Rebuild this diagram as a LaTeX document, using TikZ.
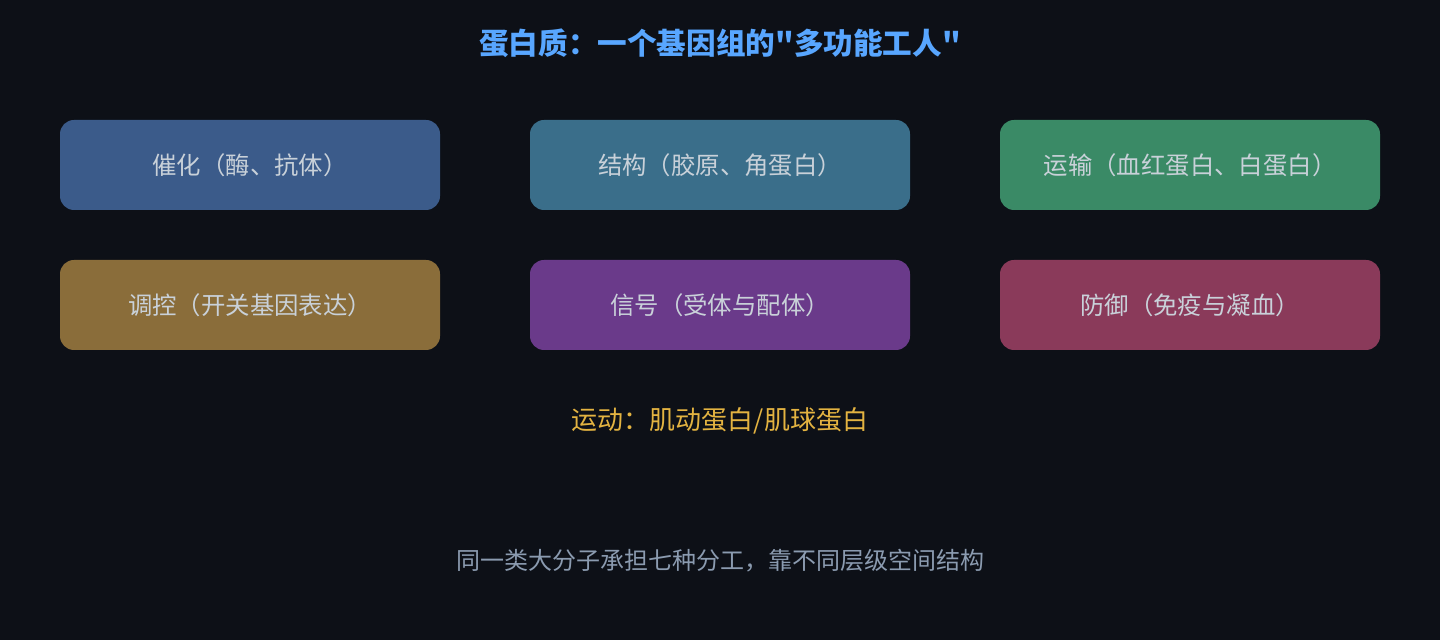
\documentclass[tikz,border=0pt]{standalone}
\usepackage{fontspec}
\setmainfont{Noto Sans CJK SC}[Ligatures=TeXOff]
\usepackage{tikz}
\usetikzlibrary{positioning}

\definecolor{bgdark}{HTML}{0D1017}
\definecolor{titleblue}{HTML}{58A6FF}
\definecolor{boxtext}{HTML}{C9D1D9}
\definecolor{motiongold}{HTML}{E3B341}
\definecolor{notegray}{HTML}{8B9BB0}
\definecolor{catblue}{HTML}{3B5B8A}
\definecolor{structteal}{HTML}{3A6E8A}
\definecolor{transgreen}{HTML}{3A8A66}
\definecolor{reggold}{HTML}{8A6D3A}
\definecolor{sigpurple}{HTML}{6A3A8A}
\definecolor{defred}{HTML}{8A3A5A}

\begin{document}
\begin{tikzpicture}[
rolenode/.style={rectangle, rounded corners=7pt, minimum width=190pt, minimum height=45pt, inner sep=0pt, outer sep=0pt, text=boxtext, font=\fontsize{12.2}{14}\selectfont},
node distance=25pt and 45pt,
]
\fill[bgdark] (0,0) rectangle (720pt,320pt);
\useasboundingbox (0,0) rectangle (720pt,320pt);
%Nodes
\node[text=titleblue, font=\bfseries\fontsize{14.8}{16}\selectfont] (title) at (360pt,298.5pt) {蛋白质：一个基因组的"多功能工人"};
\node[rolenode, fill=catblue]      (catalysis)                        at (125pt,237.5pt) {催化（酶、抗体）};
\node[rolenode, fill=structteal]   (structure)  [right=of catalysis]  {结构（胶原、角蛋白）};
\node[rolenode, fill=transgreen]   (transport)  [right=of structure]  {运输（血红蛋白、白蛋白）};
\node[rolenode, fill=reggold]      (regulation) [below=of catalysis]  {调控（开关基因表达）};
\node[rolenode, fill=sigpurple]    (signal)     [below=of structure]  {信号（受体与配体）};
\node[rolenode, fill=defred]       (defense)    [below=of transport]  {防御（免疫与凝血）};
\node[text=motiongold, font=\fontsize{13}{15}\selectfont] (motion) at (360pt,109.5pt) {运动：肌动蛋白/肌球蛋白};
\node[text=notegray, font=\fontsize{12}{14}\selectfont]   (note)   at (360pt,39.5pt)  {同一类大分子承担七种分工，靠不同层级空间结构};
\end{tikzpicture}
\end{document}
